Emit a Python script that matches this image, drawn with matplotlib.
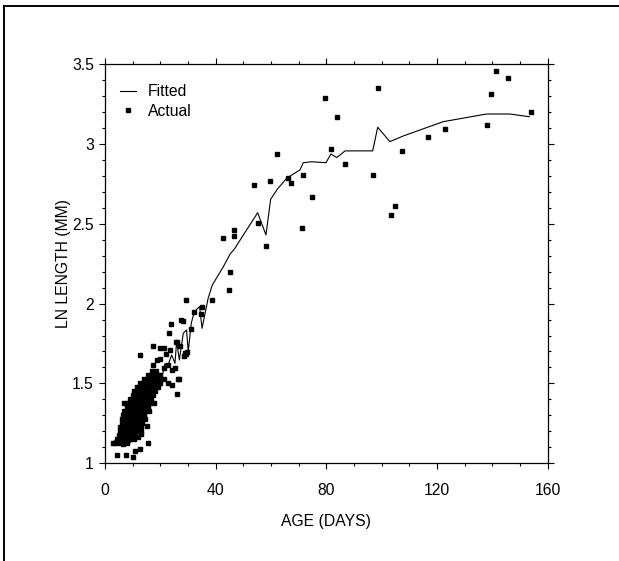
#! /usr/bin/env python3
import numpy as np
from matplotlib import pyplot as plt
from matplotlib.lines import Line2D
from matplotlib.ticker import MultipleLocator, FormatStrFormatter

plt.rcParams['font.family'] = ['Liberation Sans', 'DejaVu Sans']

# ── fitted curve ───────────────────────────────────────────────────────
fit_age = [3.5, 8, 12, 16, 18, 19.9, 20.5, 21.7, 22.5, 24.1, 25.3, 25.9,
           26.9, 28.3, 29.5, 30.1, 31.2, 32.3, 34.2, 35.1, 37.3, 38.8, 42.8,
           45.2, 46.8, 55.2, 58.2, 59.9, 62.3, 65.7, 70.5, 71.7, 74.7, 79.9,
           81.7, 83.8, 86.8, 96.8, 98.6, 103.0, 107.8, 113.9, 122.3, 138.0,
           146.4, 153.4]
fit_len = [1.14, 1.22, 1.32, 1.42, 1.48, 1.564, 1.53, 1.626, 1.60, 1.678,
           1.626, 1.761, 1.647, 1.814, 1.835, 1.699, 1.877, 1.949, 1.981,
           1.845, 2.033, 2.116, 2.231, 2.309, 2.342, 2.569, 2.430, 2.653,
           2.716, 2.785, 2.837, 2.882, 2.888, 2.882, 2.937, 2.914, 2.956,
           2.956, 3.104, 3.014, 3.049, 3.087, 3.139, 3.187, 3.187, 3.170]

# ── scattered observations ─────────────────────────────────────────────
obs_age = [141.5, 145.8, 139.4, 154.1, 138.0, 122.8, 116.8, 98.6, 79.6,
           83.9, 62.2, 81.7, 86.9, 71.7, 59.8, 66.3, 67.4, 96.9, 107.3, 74.7,
           71.1, 104.8, 103.3, 53.9, 55.3, 58.2, 46.8, 46.8, 42.5, 45.3, 44.8,
           38.8, 34.9, 29.3, 34.7, 32.3, 31.2, 23.8, 23.0, 27.4, 28.3, 25.6,
           27.2, 29.5, 28.9, 17.4, 19.9, 21.4, 23.5, 12.7, 25.9, 29.2, 28.7,
           21.9, 18.7, 19.9, 17.5, 22.9, 21.4, 25.3, 26.5, 22.9, 24.1, 25.9,
           7.0, 17.8, 15.1, 13.0, 12.0, 15.4, 12.7, 10.0, 7.6, 4.2, 3.0, 6.6,
           8.2, 10.8, 24.3, 26.9]
obs_len = [3.458, 3.415, 3.314, 3.200, 3.120, 3.095, 3.045, 3.352, 3.285,
           3.170, 2.939, 2.968, 2.874, 2.807, 2.770, 2.785, 2.757, 2.807,
           2.957, 2.669, 2.473, 2.613, 2.557, 2.743, 2.505, 2.361, 2.461,
           2.424, 2.413, 2.196, 2.085, 2.023, 1.977, 2.023, 1.933, 1.946,
           1.841, 1.872, 1.818, 1.897, 1.891, 1.758, 1.737, 1.699, 1.689,
           1.734, 1.720, 1.724, 1.709, 1.678, 1.761, 1.683, 1.674, 1.683,
           1.647, 1.653, 1.616, 1.616, 1.595, 1.595, 1.528, 1.500, 1.490,
           1.436, 1.380, 1.379, 1.234, 1.182, 1.167, 1.129, 1.090, 1.041,
           1.050, 1.052, 1.125, 1.121, 1.146, 1.079, 1.584, 1.526]

# ── dense cluster of young fish, row by row ────────────────────────────
clu_age = [3.5, 5, 6.5, 8,
           4.5, 6, 7.5, 9, 10.5,
           5, 6.5, 8, 9.5, 11,
           5.5, 7, 8.5, 10, 11.5, 13,
           5.5, 7, 8.5, 10, 11.5, 13,
           6, 7.5, 9, 10.5, 12, 13.5,
           6, 7.5, 9, 10.5, 12, 13.5, 14.5,
           6.5, 8, 9.5, 11, 12.5, 14,
           7, 8.5, 10, 11.5, 13, 14.5, 16,
           8, 9.5, 11, 12.5, 14, 15.5,
           8.5, 10, 11.5, 13, 14.5, 16,
           9, 10.5, 12, 13.5, 15, 16.5,
           10, 11.5, 13, 14.5, 16, 17.5,
           10.5, 12, 13.5, 15, 16.5, 18,
           11.5, 13, 14.5, 16, 17.5, 19,
           12.5, 14, 15.5, 17, 18.5, 20,
           14, 15.5, 17, 18.5, 20, 21.5,
           15.5, 17, 18.5, 20,
           17, 18.5]
clu_len = [1.13, 1.13, 1.13, 1.13,
           1.155, 1.155, 1.155, 1.155, 1.155,
           1.18, 1.18, 1.18, 1.18, 1.18,
           1.205, 1.205, 1.205, 1.205, 1.205, 1.205,
           1.23, 1.23, 1.23, 1.23, 1.23, 1.23,
           1.255, 1.255, 1.255, 1.255, 1.255, 1.255,
           1.28, 1.28, 1.28, 1.28, 1.28, 1.28, 1.28,
           1.305, 1.305, 1.305, 1.305, 1.305, 1.305,
           1.33, 1.33, 1.33, 1.33, 1.33, 1.33, 1.33,
           1.355, 1.355, 1.355, 1.355, 1.355, 1.355,
           1.38, 1.38, 1.38, 1.38, 1.38, 1.38,
           1.405, 1.405, 1.405, 1.405, 1.405, 1.405,
           1.43, 1.43, 1.43, 1.43, 1.43, 1.43,
           1.455, 1.455, 1.455, 1.455, 1.455, 1.455,
           1.48, 1.48, 1.48, 1.48, 1.48, 1.48,
           1.505, 1.505, 1.505, 1.505, 1.505, 1.505,
           1.53, 1.53, 1.53, 1.53, 1.53, 1.53,
           1.555, 1.555, 1.555, 1.555,
           1.58, 1.58]

age = np.array(obs_age + clu_age)
length = np.array(obs_len + clu_len)

fs = 11.3
fig = plt.figure(figsize=(6.19, 5.61), dpi=100)
fig.patch.set_facecolor('w')
ax = fig.add_axes([0.1696, 0.1742, 0.7149, 0.7117])

ax.plot(fit_age, fit_len, color='k', lw=0.8, label='Fitted')
ax.plot(age, length, ls='none', marker='s', ms=3.4, color='k',
        mec='k', label='Actual')

ax.set_xlim(0, 160)
ax.set_ylim(1, 3.5)
ax.xaxis.set_major_locator(MultipleLocator(40))
ax.xaxis.set_minor_locator(MultipleLocator(10))
ax.yaxis.set_major_locator(MultipleLocator(0.5))
ax.yaxis.set_minor_locator(MultipleLocator(0.1))
ax.yaxis.set_major_formatter(FormatStrFormatter('%g'))
ax.tick_params(which='both', direction='out', top=True, right=True,
               labelsize=fs, width=0.8)
ax.tick_params(which='major', length=4)
ax.tick_params(which='minor', length=2.5)
ax.tick_params(axis='x', which='major', pad=10)
ax.tick_params(axis='y', which='major', pad=4)
for s in ax.spines.values():
    s.set_linewidth(0.9)

ax.set_xlabel('AGE (DAYS)', fontsize=fs, labelpad=12)
ax.set_ylabel('LN LENGTH (MM)', fontsize=fs, labelpad=1)

ax.legend(loc='upper left', bbox_to_anchor=(0.0, 0.987), frameon=False,
          fontsize=fs, handlelength=1.0, handletextpad=0.8,
          labelspacing=0.3, borderaxespad=0.55, markerscale=1.0)

# page frame (left and top rule of the scanned figure)
fig.add_artist(Line2D([0.007, 0.007], [0, 0.99], color='k', lw=1.4,
                      transform=fig.transFigure))
fig.add_artist(Line2D([0.007, 1.0], [0.99, 0.99], color='k', lw=1.4,
                      transform=fig.transFigure))

plt.savefig('out.png', dpi=100)
